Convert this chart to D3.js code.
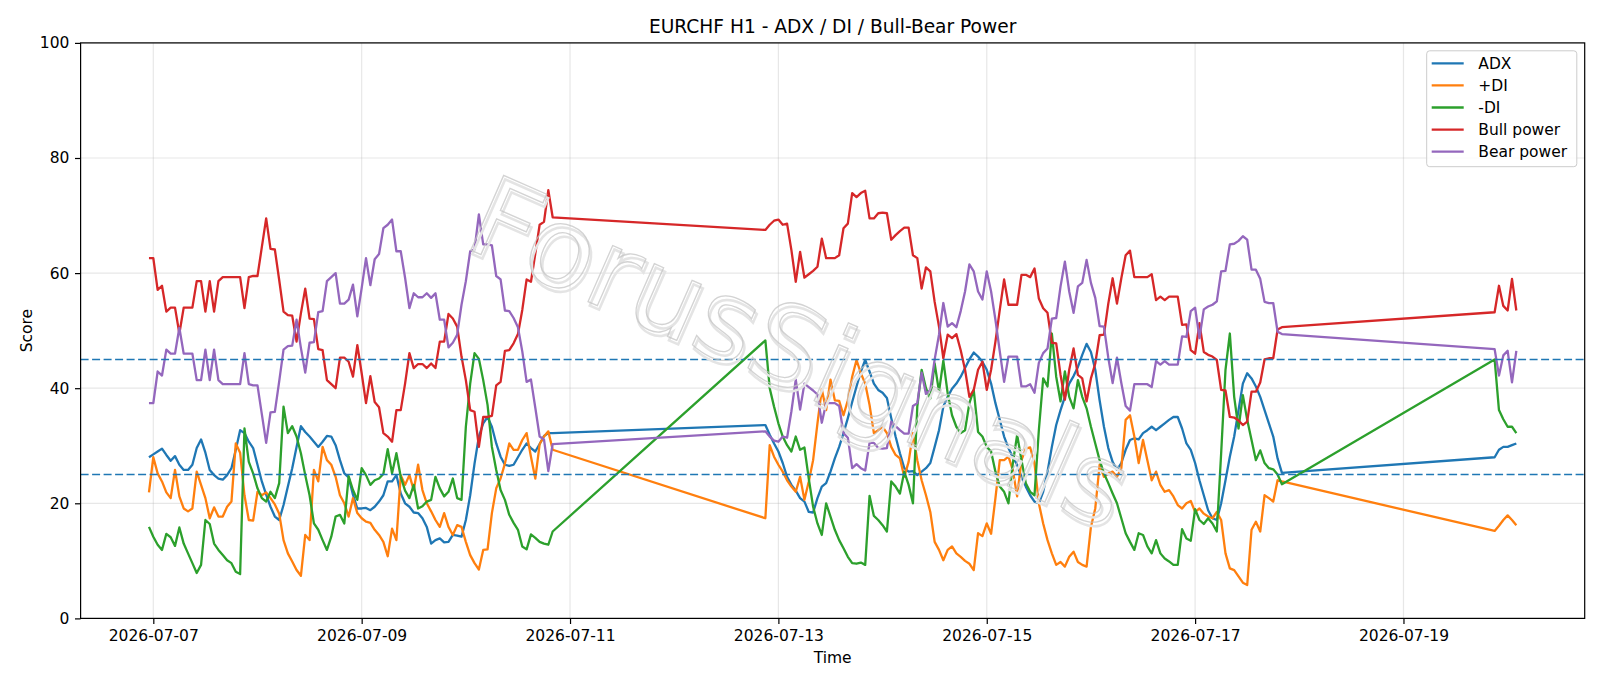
<!DOCTYPE html>
<html>
<head>
<meta charset="utf-8">
<script src="https://cdn.jsdelivr.net/npm/d3@7"></script>
<style>
  html, body { margin: 0; padding: 0; background: #fff; }
  svg { display: block; font-family: 'DejaVu Sans', sans-serif; }
</style>
</head>
<body>
<svg id="chart" width="1600" height="686"></svg>
<script>
// hourly bars in three sessions; matplotlib joins the weekend gaps with straight segments
const sessionStarts = ['2026-07-06T23:00:00Z', '2026-07-12T21:00:00Z', '2026-07-19T21:00:00Z'];
const sessionLengths = [94, 120, 6];

const adx = [
  28.0, 28.5, 29.0, 29.5, 28.4, 27.4, 28.2, 26.7, 25.8, 25.8,
  26.7, 29.6, 31.1, 28.8, 25.8, 24.9, 24.3, 24.1, 24.9, 26.1,
  29.3, 32.7, 32.2, 30.7, 29.6, 26.7, 23.8, 21.5, 19.4, 17.7,
  17.1, 19.7, 22.9, 26.1, 29.8, 33.4, 32.4, 31.6, 30.7, 29.8,
  30.7, 31.7, 31.6, 30.1, 27.5, 25.2, 24.5, 21.5, 19.1, 19.1,
  19.2, 18.8, 19.4, 20.3, 21.4, 23.8, 23.8, 24.9, 21.7, 20.0,
  19.4, 18.4, 18.3, 17.4, 15.9, 13.0, 13.6, 13.9, 13.2, 13.3,
  14.5, 14.4, 14.2, 17.1, 21.4, 26.9, 31.6, 33.9, 35.0, 33.3,
  30.4, 28.1, 26.7, 26.5, 26.7, 28.0, 29.3, 30.4, 29.6, 29.0,
  30.3, 31.7, 32.2, 32.2,
  33.6, 31.9, 30.4, 29.0, 27.0, 24.6, 23.2, 22.2, 20.9, 20.3,
  18.5, 18.4, 20.9, 22.9, 23.5, 25.5, 27.8, 29.8, 32.2, 34.8,
  37.6, 40.3, 42.9, 44.9, 42.9, 40.8, 39.7, 39.2, 38.3, 34.8,
  31.6, 28.7, 26.1, 25.5, 25.6, 24.9, 25.5, 26.1, 27.0, 29.8,
  32.7, 36.8, 38.5, 39.9, 40.8, 42.0, 43.5, 45.0, 46.2, 45.5,
  44.6, 43.2, 40.8, 37.4, 34.5, 31.6, 29.6, 28.0, 26.7, 24.6,
  22.9, 21.4, 20.3, 20.0, 22.0, 25.5, 29.8, 33.6, 36.2, 38.5,
  40.8, 42.1, 43.7, 45.8, 47.7, 46.3, 43.2, 37.9, 33.3, 29.6,
  27.2, 25.8, 27.0, 29.3, 31.0, 31.3, 31.1, 32.2, 32.7, 33.3,
  32.7, 33.3, 33.9, 34.5, 35.0, 35.0, 33.0, 30.4, 29.3, 27.0,
  24.0, 21.4, 18.8, 17.4, 17.1, 20.0, 24.0, 28.1, 31.6, 36.2,
  40.8, 42.6, 41.7, 40.3, 38.5, 36.2, 33.9, 31.6, 27.8, 25.3,
  28.0, 29.3, 29.8, 29.8, 30.1, 30.4
];

const plusDI = [
  21.9, 28.0, 25.2, 23.8, 21.9, 20.9, 25.8, 21.2, 19.1, 18.6,
  19.1, 25.5, 23.2, 20.9, 17.4, 19.3, 17.7, 17.7, 19.4, 20.3,
  30.4, 28.8, 21.4, 17.1, 17.0, 22.0, 21.4, 21.9, 20.9, 19.8,
  18.2, 13.6, 11.3, 9.9, 8.4, 7.4, 14.5, 13.6, 25.8, 23.8,
  29.8, 27.5, 26.7, 24.6, 21.4, 20.0, 17.7, 20.9, 18.3, 17.4,
  16.8, 16.6, 15.4, 14.5, 13.3, 10.8, 15.6, 13.6, 24.9, 23.2,
  24.9, 22.3, 26.7, 22.3, 20.0, 18.6, 17.1, 15.9, 18.3, 15.9,
  14.5, 16.2, 15.9, 13.3, 11.0, 9.6, 8.5, 11.9, 12.0, 18.3,
  22.6, 24.3, 26.9, 30.4, 29.3, 29.3, 31.0, 32.2, 28.1, 24.3,
  30.3, 31.6, 32.5, 29.3,
  17.4, 30.1, 28.1, 26.7, 25.5, 24.0, 22.9, 22.0, 24.6, 20.6,
  23.8, 27.5, 33.9, 39.8, 36.2, 41.5, 37.9, 37.8, 35.3, 37.9,
  42.0, 44.9, 42.6, 40.8, 37.1, 32.2, 32.7, 33.3, 32.2, 29.8,
  28.4, 27.8, 24.6, 27.2, 32.2, 27.5, 24.0, 21.4, 18.5, 13.3,
  11.9, 10.1, 11.9, 12.5, 11.3, 10.7, 10.0, 9.5, 8.4, 14.8,
  14.3, 16.5, 14.7, 20.9, 27.5, 27.5, 28.1, 25.8, 21.2, 27.5,
  29.5, 29.7, 27.0, 20.0, 16.5, 13.6, 11.3, 9.3, 9.8, 9.0,
  10.7, 11.6, 9.8, 9.3, 9.0, 15.9, 19.1, 26.7, 24.6, 25.2,
  25.5, 24.6, 26.1, 34.5, 35.3, 31.6, 27.0, 31.0, 27.5, 24.0,
  25.5, 23.2, 22.0, 22.3, 21.2, 19.7, 19.1, 20.0, 20.4, 18.5,
  19.1, 18.2, 17.7, 17.4, 18.5, 17.1, 11.3, 8.7, 8.4, 7.3,
  6.2, 5.8, 15.4, 16.8, 15.1, 21.4, 20.9, 20.3, 24.0, 23.8,
  15.2, 16.1, 17.1, 17.9, 17.1, 16.2
];

const minusDI = [
  15.9, 14.2, 12.8, 11.9, 14.7, 14.1, 12.6, 15.8, 13.0, 11.3,
  9.6, 7.9, 9.3, 17.1, 16.4, 13.0, 11.9, 11.0, 10.1, 9.6,
  8.1, 7.7, 33.0, 27.2, 25.2, 22.6, 20.9, 20.3, 22.0, 20.9,
  23.5, 36.8, 32.2, 33.4, 31.6, 28.7, 24.9, 21.4, 16.5, 15.4,
  13.6, 11.9, 14.2, 17.7, 18.0, 16.5, 24.7, 22.3, 20.6, 26.1,
  24.9, 23.2, 24.0, 24.3, 25.1, 29.4, 25.2, 28.7, 24.6, 22.2,
  20.9, 23.2, 19.1, 19.5, 20.3, 20.6, 24.6, 22.6, 21.2, 22.0,
  24.3, 20.9, 20.6, 33.3, 40.8, 46.1, 45.1, 41.4, 37.1, 29.8,
  25.8, 22.3, 20.6, 18.0, 16.6, 15.4, 12.5, 12.0, 14.6, 14.0,
  13.3, 13.0, 12.8, 15.1,
  48.3, 40.0, 36.8, 33.9, 31.6, 30.1, 29.0, 31.6, 29.3, 29.7,
  24.3, 19.4, 16.5, 14.5, 20.0, 17.7, 15.4, 13.6, 12.2, 10.7,
  9.6, 9.5, 9.7, 9.3, 21.3, 17.8, 17.1, 16.2, 15.1, 23.8,
  22.9, 21.7, 25.5, 23.2, 20.0, 36.8, 43.2, 40.0, 38.2, 44.3,
  39.4, 44.8, 39.1, 35.3, 33.3, 32.2, 32.7, 37.4, 39.7, 32.4,
  31.6, 29.8, 29.0, 25.5, 22.9, 22.0, 20.0, 26.9, 31.9, 27.5,
  23.5, 22.0, 21.4, 32.7, 41.7, 40.3, 49.5, 42.0, 37.7, 42.9,
  38.5, 36.5, 41.4, 38.5, 36.5, 33.3, 30.4, 27.5, 25.2, 23.5,
  21.7, 20.0, 17.4, 14.8, 13.3, 11.9, 14.8, 14.5, 12.5, 11.3,
  13.6, 11.3, 10.4, 9.9, 9.3, 9.3, 15.5, 13.9, 13.5, 19.0,
  17.1, 16.4, 17.4, 16.5, 15.1, 28.7, 43.2, 49.5, 38.5, 33.0,
  38.8, 34.5, 31.0, 27.5, 29.2, 27.0, 26.1, 25.9, 25.0, 23.3,
  45.0, 36.2, 34.6, 33.3, 33.3, 32.2
];

const bullPower = [
  62.6, 62.6, 57.1, 57.8, 53.3, 54.0, 54.0, 49.5, 54.0, 54.0,
  54.0, 58.6, 58.6, 53.3, 58.6, 53.3, 58.6, 59.3, 59.3, 59.3,
  59.3, 59.3, 53.9, 59.3, 59.5, 59.5, 64.5, 69.5, 64.2, 64.1,
  58.8, 53.3, 52.7, 52.6, 48.1, 53.0, 57.3, 52.1, 52.0, 46.8,
  46.6, 41.4, 40.7, 40.0, 45.3, 45.3, 44.6, 42.0, 47.5, 42.6,
  37.4, 42.1, 37.6, 36.7, 32.2, 31.6, 30.7, 36.2, 36.2, 40.8,
  46.1, 43.5, 44.2, 44.2, 43.5, 44.3, 43.5, 48.1, 48.1, 52.9,
  52.1, 50.7, 45.5, 41.4, 36.2, 35.9, 29.8, 35.0, 35.0, 35.2,
  40.5, 41.1, 46.5, 46.6, 47.8, 49.4, 53.6, 58.9, 58.5, 63.4,
  68.4, 68.9, 74.4, 69.7,
  67.5, 68.4, 69.1, 69.3, 68.4, 68.6, 64.0, 58.5, 63.7, 59.2,
  59.8, 60.4, 61.1, 66.0, 62.6, 62.6, 62.6, 63.1, 67.8, 68.6,
  73.9, 73.2, 73.9, 74.3, 69.5, 69.5, 70.4, 70.5, 70.4, 65.8,
  66.6, 67.3, 67.9, 67.9, 63.1, 62.6, 57.3, 61.0, 60.3, 55.0,
  50.7, 45.2, 49.3, 48.7, 49.4, 46.6, 43.2, 38.5, 39.7, 43.2,
  44.6, 39.7, 43.2, 48.1, 53.6, 58.9, 54.5, 54.5, 54.5, 59.7,
  59.7, 59.3, 60.8, 55.6, 53.9, 53.1, 47.9, 47.8, 42.3, 38.0,
  43.2, 46.9, 42.3, 41.7, 37.7, 41.7, 44.3, 49.2, 49.3, 54.7,
  59.1, 54.7, 59.1, 63.1, 63.9, 59.3, 59.3, 59.3, 59.3, 59.8,
  55.3, 55.9, 55.3, 55.9, 55.9, 55.9, 51.0, 51.1, 46.6, 46.0,
  51.3, 46.3, 45.8, 45.5, 44.9, 39.7, 39.6, 35.0, 34.9, 34.4,
  33.6, 34.2, 39.4, 39.4, 41.0, 45.0, 45.2, 45.2, 50.2, 50.6,
  53.2, 57.8, 54.3, 53.5, 59.0, 53.5
];

const bearPower = [
  37.4, 37.4, 42.9, 42.2, 46.7, 46.0, 46.0, 50.5, 46.0, 46.0,
  46.0, 41.4, 41.4, 46.7, 41.4, 46.7, 41.4, 40.7, 40.7, 40.7,
  40.7, 40.7, 46.1, 40.7, 40.5, 40.5, 35.5, 30.5, 35.8, 35.9,
  41.2, 46.7, 47.3, 47.4, 51.9, 47.0, 42.7, 47.9, 48.0, 53.2,
  53.4, 58.6, 59.3, 60.0, 54.7, 54.7, 55.4, 58.0, 52.5, 57.4,
  62.6, 57.9, 62.4, 63.3, 67.8, 68.4, 69.3, 63.8, 63.8, 59.2,
  53.9, 56.5, 55.8, 55.8, 56.5, 55.7, 56.5, 51.9, 51.9, 47.1,
  47.9, 49.3, 54.5, 58.6, 63.8, 64.1, 70.2, 65.0, 65.0, 64.8,
  59.5, 58.9, 53.5, 53.4, 52.2, 50.6, 46.4, 41.1, 41.5, 36.6,
  31.6, 31.1, 25.6, 30.3,
  32.5, 31.6, 30.9, 30.7, 31.6, 31.4, 36.0, 41.5, 36.3, 40.8,
  40.2, 39.6, 38.9, 34.0, 37.4, 37.4, 37.4, 36.9, 32.2, 31.4,
  26.1, 26.8, 26.1, 25.7, 30.5, 30.5, 29.6, 29.5, 29.6, 34.2,
  33.4, 32.7, 32.1, 32.1, 36.9, 37.4, 42.7, 39.0, 39.7, 45.0,
  49.3, 54.8, 50.7, 51.3, 50.6, 53.4, 56.8, 61.5, 60.3, 56.8,
  55.4, 60.3, 56.8, 51.9, 46.4, 41.1, 45.5, 45.5, 45.5, 40.3,
  40.3, 40.7, 39.2, 44.4, 46.1, 46.9, 52.1, 52.2, 57.7, 62.0,
  56.8, 53.1, 57.7, 58.3, 62.3, 58.3, 55.7, 50.8, 50.7, 45.3,
  40.9, 45.3, 40.9, 36.9, 36.1, 40.7, 40.7, 40.7, 40.7, 40.2,
  44.7, 44.1, 44.7, 44.1, 44.1, 44.1, 49.0, 48.9, 53.4, 54.0,
  48.7, 53.7, 54.2, 54.5, 55.1, 60.3, 60.4, 65.0, 65.1, 65.6,
  66.4, 65.8, 60.6, 60.6, 59.0, 55.0, 54.8, 54.8, 49.8, 49.4,
  46.8, 42.2, 45.7, 46.5, 41.0, 46.5
];

const seriesNames = ['ADX', '+DI', '-DI', 'Bull power', 'Bear power'];
const seriesColors = ['#1f77b4', '#ff7f0e', '#2ca02c', '#d62728', '#9467bd'];
const thresholds = [25, 45];
const xTickLabels = ['2026-07-07', '2026-07-09', '2026-07-11', '2026-07-13', '2026-07-15', '2026-07-17', '2026-07-19'];
const yTicks = [0, 20, 40, 60, 80, 100];

// build the hourly time axis from the session starts
var times = [];
sessionStarts.forEach(function(s, k) {
  var start = new Date(s);
  for (var h = 0; h < sessionLengths[k]; h++) times.push(d3.utcHour.offset(start, h));
});

var allSeries = [adx, plusDI, minusDI, bullPower, bearPower];

var width = 1600, height = 686;
var margin = { top: 42.9, right: 15.3, bottom: 67.6, left: 80.6 };
var innerW = width - margin.left - margin.right,
  innerH = height - margin.top - margin.bottom;

var svg = d3.select('#chart');
var g = svg.append('g').attr('transform', `translate(${margin.left},${margin.top})`);

// matplotlib-style 5% margin on the time axis
var t0 = +times[0], t1 = +times[times.length - 1], pad = (t1 - t0) * 0.05;
var x = d3.scaleUtc().domain([new Date(t0 - pad), new Date(t1 + pad)]).range([0, innerW]);
var y = d3.scaleLinear().domain([0, 100]).range([innerH, 0]);

var xTickDates = xTickLabels.map(s => new Date(s + 'T00:00:00Z'));

// grid
g.append('g').attr('class', 'grid-x').selectAll('line').data(xTickDates).join('line')
  .attr('x1', d => x(d)).attr('x2', d => x(d))
  .attr('y1', 0).attr('y2', innerH)
  .attr('stroke', '#b0b0b0').attr('stroke-opacity', 0.3).attr('stroke-width', 1.2);

g.append('g').attr('class', 'grid-y').selectAll('line').data(yTicks).join('line')
  .attr('x1', 0).attr('x2', innerW)
  .attr('y1', d => y(d)).attr('y2', d => y(d))
  .attr('stroke', '#b0b0b0').attr('stroke-opacity', 0.3).attr('stroke-width', 1.2);

// series lines
var line = d3.line()
  .x((d, i) => x(times[i]))
  .y(d => y(d));

allSeries.forEach(function(values, k) {
  g.append('path')
    .datum(values)
    .attr('fill', 'none')
    .attr('stroke', seriesColors[k])
    .attr('stroke-width', 2.3)
    .attr('stroke-linejoin', 'round')
    .attr('d', line);
});

// threshold lines
g.append('g').selectAll('line').data(thresholds).join('line')
  .attr('x1', 0).attr('x2', innerW)
  .attr('y1', d => y(d)).attr('y2', d => y(d))
  .attr('stroke', '#1f77b4')
  .attr('stroke-width', 1.5)
  .attr('stroke-dasharray', '8,3.5');

// watermark, faint hollow letters with a soft shadow
var wm = g.append('g')
  .attr('transform', `translate(${800 - margin.left},${352 - margin.top}) rotate(23.7)`)
  .style('pointer-events', 'none');
wm.append('text')
  .attr('x', 3).attr('y', 3)
  .attr('text-anchor', 'middle').attr('dominant-baseline', 'central')
  .style('font-size', '112px')
  .attr('fill', 'none').attr('stroke', '#e4e4e4').attr('stroke-width', 2.5)
  .text('ForusSignals');
wm.append('text')
  .attr('text-anchor', 'middle').attr('dominant-baseline', 'central')
  .style('font-size', '112px')
  .attr('fill', 'none').attr('stroke', '#c4c4c4').attr('stroke-width', 1.3)
  .attr('stroke-opacity', 0.75)
  .text('ForusSignals');

// axes
var xAxisGroup = g.append('g')
  .attr('transform', `translate(0,${innerH})`)
  .call(d3.axisBottom(x).tickValues(xTickDates).tickFormat(d3.utcFormat('%Y-%m-%d'))
    .tickSize(5.6).tickPadding(5.6));
var yAxisGroup = g.append('g')
  .call(d3.axisLeft(y).tickValues(yTicks).tickSize(5.6).tickPadding(5.6));

[xAxisGroup, yAxisGroup].forEach(function(ax) {
  ax.select('.domain').remove();
  ax.selectAll('.tick line').attr('stroke', '#000').attr('stroke-width', 1.2);
  ax.selectAll('.tick text')
    .attr('fill', '#000')
    .style('font-family', "'DejaVu Sans', sans-serif")
    .style('font-size', '15.5px');
});

// frame
g.append('rect')
  .attr('width', innerW).attr('height', innerH)
  .attr('fill', 'none').attr('stroke', '#000').attr('stroke-width', 1.2);

// axis titles
svg.append('text')
  .attr('x', margin.left + innerW / 2).attr('y', 663)
  .attr('text-anchor', 'middle')
  .style('font-size', '15.5px')
  .text('Time');

svg.append('text')
  .attr('transform', `translate(31.5,${margin.top + innerH / 2}) rotate(-90)`)
  .attr('text-anchor', 'middle')
  .style('font-size', '15.5px')
  .text('Score');

svg.append('text')
  .attr('x', margin.left + innerW / 2).attr('y', 33.4)
  .attr('text-anchor', 'middle')
  .style('font-size', '18.6px')
  .text('EURCHF H1 - ADX / DI / Bull-Bear Power');

// legend
var legendGroup = svg.append('g').attr('transform', 'translate(1426.7,50.8)');
legendGroup.append('rect')
  .attr('width', 150.1).attr('height', 115.9).attr('rx', 3)
  .attr('fill', '#fff').attr('fill-opacity', 0.8)
  .attr('stroke', '#cccccc').attr('stroke-width', 1);

var legend = legendGroup.selectAll('g.item').data(seriesNames).join('g')
  .attr('class', 'item')
  .attr('transform', (d, i) => `translate(0,${12.5 + i * 22.1})`);

legend.append('line')
  .attr('x1', 5).attr('x2', 37)
  .attr('stroke', (d, i) => seriesColors[i])
  .attr('stroke-width', 2.3);

legend.append('text')
  .attr('x', 51.6).attr('y', 5.6)
  .style('font-size', '15.5px')
  .text(d => d);

// sanity check on the hand-read arrays
var total = d3.sum(sessionLengths);
allSeries.forEach(function(s, k) {
  if (s.length !== total) console.error(seriesNames[k] + ' has ' + s.length + ' values, expected ' + total);
});
</script>
</body>
</html>
